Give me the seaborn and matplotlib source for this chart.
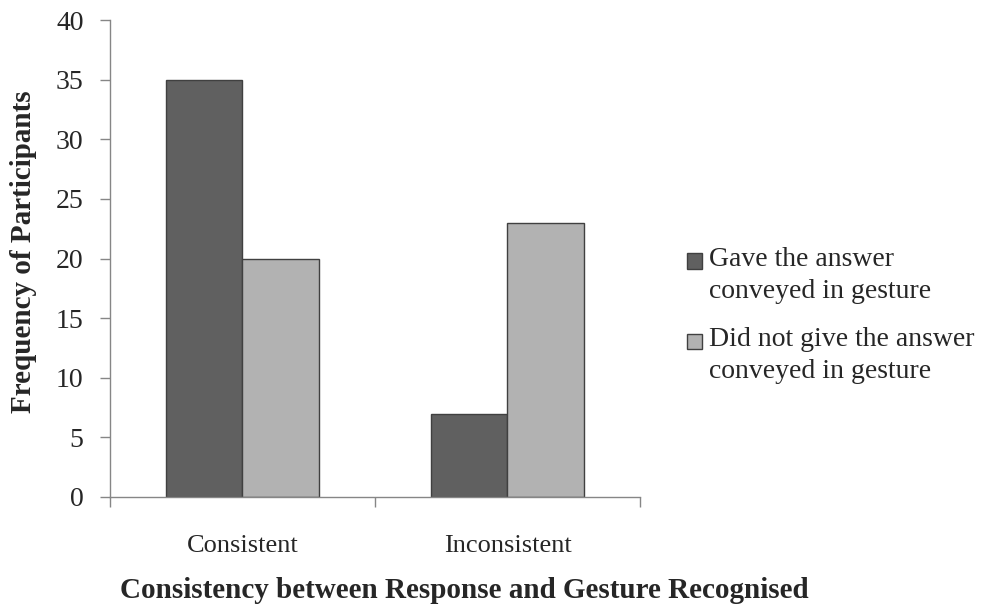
import pandas as pd
import matplotlib.pyplot as plt
import seaborn as sns
from matplotlib.patches import Rectangle
from matplotlib.legend_handler import HandlerPatch

# data
categories = ['Consistent', 'Inconsistent']
series_names = ['Gave the answer\nconveyed in gesture',
                'Did not give the answer\nconveyed in gesture']
gave_answer = [35, 7]
not_gave_answer = [20, 23]

df = pd.DataFrame({
    'category': categories * 2,
    'series': [series_names[0]] * 2 + [series_names[1]] * 2,
    'freq': gave_answer + not_gave_answer,
})

sns.set_style('white')
plt.rcParams['font.family'] = ['Liberation Serif', 'DejaVu Serif']

fig = plt.figure(figsize=(9.87, 6.05), dpi=100)
ax = fig.add_axes([110 / 987, 1 - 497 / 605, 530 / 987, 477 / 605])

sns.barplot(data=df, x='category', y='freq', hue='series', ax=ax,
            palette=['#606060', '#b2b2b2'], width=0.575,
            edgecolor='#404040', linewidth=1.0, saturation=1)

ax.set_xlim(-0.5, 1.5)
ax.set_ylim(0, 40)
ax.set_yticks(range(0, 41, 5))

# category boundaries get the tick marks, labels sit between them
ax.set_xticks([-0.5, 0.5, 1.5])
ax.set_xticklabels([])
ax.set_xticks([0, 1], minor=True)
ax.set_xticklabels(categories, minor=True, fontsize=19)
ax.tick_params(axis='x', which='major', bottom=True, direction='out',
               length=7, color='#868686', width=1)
ax.tick_params(axis='x', which='minor', bottom=True, length=0, pad=27)
ax.tick_params(axis='y', left=True, direction='out', length=7,
               color='#868686', width=1, labelsize=20, pad=12)

for side in ['top', 'right']:
    ax.spines[side].set_visible(False)
for side in ['left', 'bottom']:
    ax.spines[side].set_color('#868686')
    ax.spines[side].set_linewidth(1)

ax.set_xlabel('Consistency between Response and Gesture Recognised',
              fontsize=21, fontweight='bold')
ax.xaxis.set_label_coords((464 - 110) / 530, -(590 - 497) / 477)
ax.xaxis.label.set_va('center')
ax.set_ylabel('Frequency of Participants', fontsize=21, fontweight='bold')
ax.yaxis.set_label_coords((23 - 110) / 530, (497 - 252) / 477)
ax.yaxis.label.set_va('center')


# legend square sits next to the first line of each label (Excel style)
def top_square(legend, orig_handle, xdescent, ydescent, width, height, fontsize):
    s = 0.55 * fontsize
    return Rectangle((-xdescent, -ydescent + height - 0.1 * fontsize - s), s, s)


leg = ax.legend(loc='upper left',
                bbox_to_anchor=(676 / 987, 1 - 236 / 605),
                bbox_transform=fig.transFigure, borderaxespad=0,
                frameon=False, fontsize=20, handlelength=0.55,
                handleheight=2.5, handletextpad=0.25, labelspacing=0.85,
                handler_map={Rectangle: HandlerPatch(patch_func=top_square)})
for h in leg.legend_handles:
    h.set_edgecolor('#404040')
for t in leg.get_texts():
    t.set_linespacing(1.35)

plt.savefig('out.png', dpi=100)
